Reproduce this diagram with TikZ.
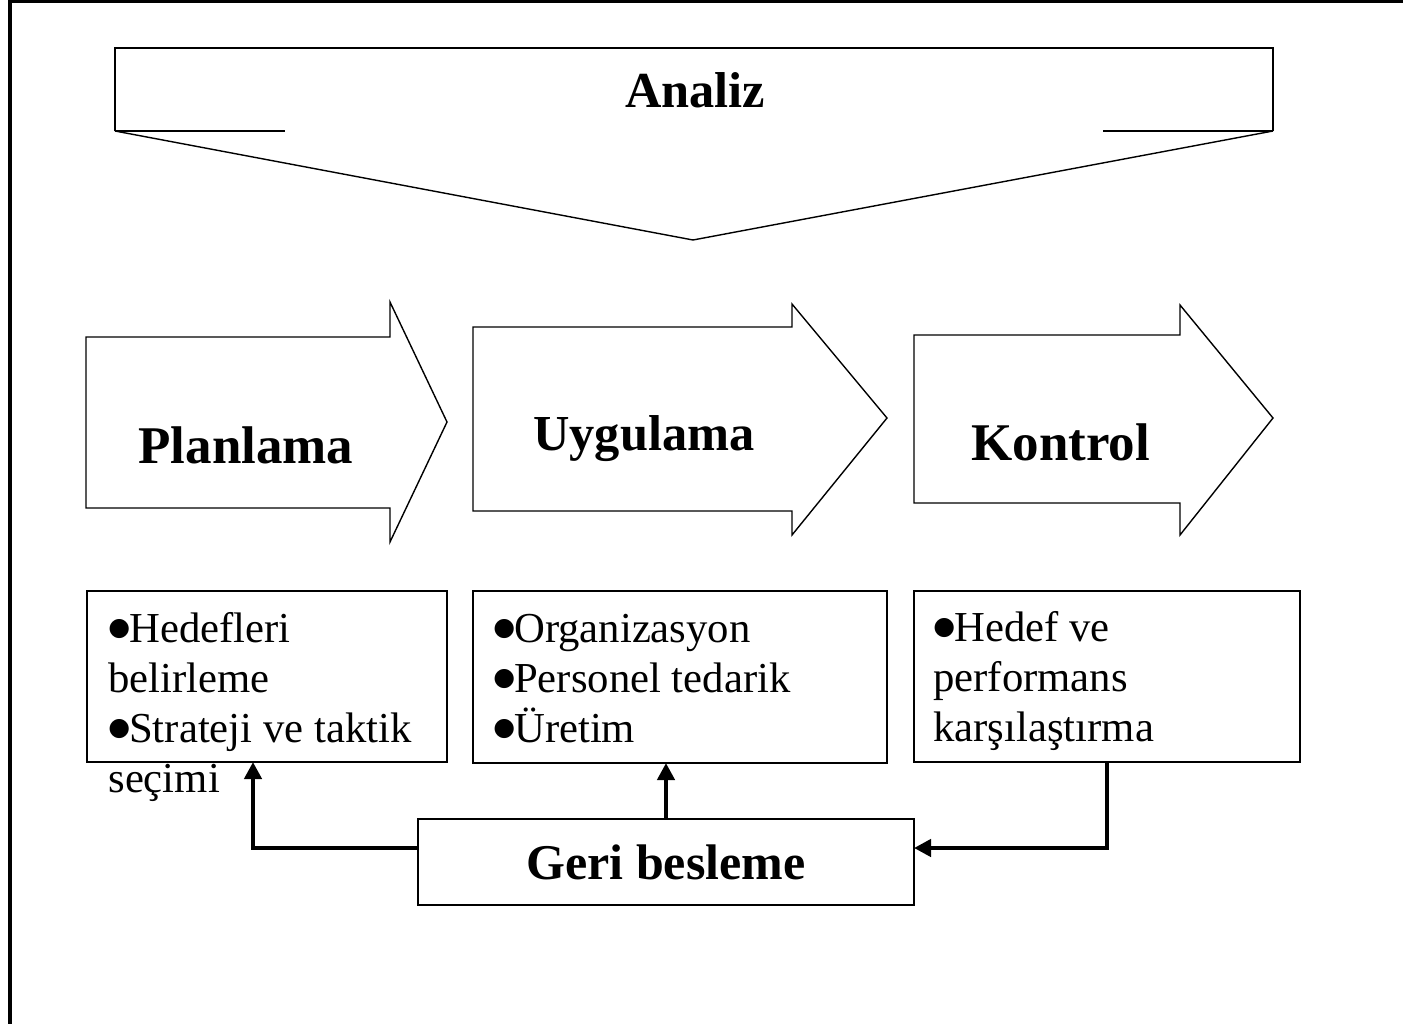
\documentclass[tikz,border=0pt]{standalone}
\usepackage{fontspec}
\setmainfont{Liberation Serif}
\newfontfamily\symf{DejaVu Sans}
\usetikzlibrary{arrows.meta}
\newcommand\mybul{\raisebox{3.2pt}{\symf\fontsize{12.5}{25}\selectfont ●}\kern-0.5pt}
\begin{document}
\begin{tikzpicture}[x=0.5pt,y=-0.5pt,
  frameline/.style={line width=1.6pt},
  outline/.style={line width=0.7pt, line join=miter},
  bigarrow/.style={line width=0.7pt, line join=miter, fill=white},
  biglabel/.style={font=\fontsize{25.2}{30}\selectfont\bfseries, inner sep=0pt},
  bodytext/.style={font=\fontsize{21.35}{25}\selectfont, inner sep=0pt, anchor=base west, align=left},
  listbox/.style={draw, line width=0.7pt, anchor=north west, inner sep=0pt, outer sep=0pt},
  fb/.style={line width=2.2pt, -{Triangle[length=8.5pt,width=8.5pt]}}]
\useasboundingbox (0,0) rectangle (1403,1023);
% outer frame (partly visible)
\draw[frameline] (10,1030) -- (10,1) -- (1410,1);
% Analiz callout
\draw[outline] (115,131) -- (115,48) -- (1273,48) -- (1273,131);
\draw[outline] (115,131) -- (693,240) -- (1273,131);
\draw[line width=1.4pt] (115,131) -- (285,131);
\draw[line width=1.4pt] (1103,131) -- (1273,131);
\node[biglabel] (analiz) at (695,90) {Analiz};
% big arrows
\draw[bigarrow] (86,337) -- (390,337) -- (390,302) -- (447,422) -- (390,542) -- (390,508) -- (86,508) -- cycle;
\draw[bigarrow] (473,327) -- (792,327) -- (792,304) -- (887,418) -- (792,535) -- (792,511) -- (473,511) -- cycle;
\draw[bigarrow] (914,335) -- (1180,335) -- (1180,305) -- (1273,418) -- (1180,535) -- (1180,503) -- (914,503) -- cycle;
\node[biglabel, font=\fontsize{26.5}{30}\selectfont\bfseries, anchor=base west] (planlama) at (138,463) {Planlama};
\node[biglabel, anchor=base west] (uygulama) at (533,450) {Uygulama};
\node[biglabel, font=\fontsize{26.5}{30}\selectfont\bfseries, anchor=base west] (kontrol) at (971,460) {Kontrol};
% list boxes
\node[listbox, minimum width=180pt, minimum height=85.5pt] (b1) at (87,591) {};
\node[listbox, minimum width=207pt, minimum height=86pt] (b2) at (473,591) {};
\node[listbox, minimum width=193pt, minimum height=85.5pt] (b3) at (914,591) {};
\node[bodytext] (t1) at (108,792) {\mybul Hedefleri\\belirleme\\\mybul Strateji ve taktik\\seçimi};
\node[bodytext] (t2) at (493,742) {\mybul Organizasyon\\\mybul Personel tedarik\\\mybul Üretim};
\node[bodytext] (t3) at (933,741) {\mybul Hedef ve\\performans\\karşılaştırma};
% feedback
\node[draw, line width=0.7pt, minimum width=248pt, minimum height=43pt, inner sep=0pt, outer sep=0pt, font=\fontsize{25}{30}\selectfont\bfseries] (geri) at (666,862) {Geri besleme};
\draw[fb] ([yshift=7pt]geri.west) -| ([xshift=-7pt]b1.south);
\draw[fb] (geri.north) -- (geri.north |- b2.south);
\draw[fb] (b3.south) |- ([yshift=7pt]geri.east);
\end{tikzpicture}
\end{document}
